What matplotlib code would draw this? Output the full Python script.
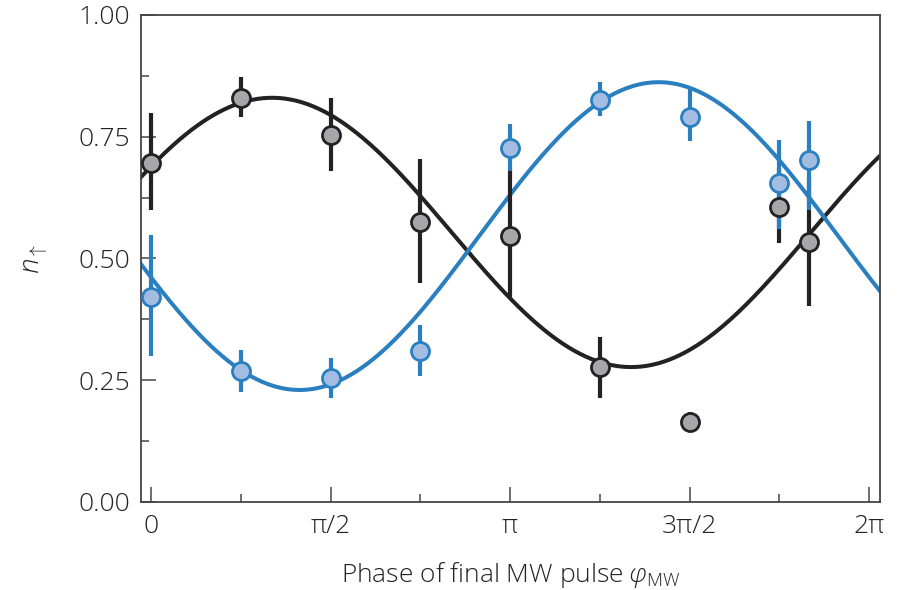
import numpy as np
import matplotlib
matplotlib.use("Agg")
import matplotlib.pyplot as plt
from matplotlib.ticker import MultipleLocator

plt.rcParams['font.family'] = ['Open Sans', 'DejaVu Sans']
plt.rcParams['font.weight'] = 'light'
plt.rcParams['axes.labelweight'] = 'light'
plt.rcParams['mathtext.fontset'] = 'custom'
plt.rcParams['mathtext.rm'] = 'Open Sans:light'
plt.rcParams['mathtext.it'] = 'Open Sans:italic:light'

# phases in units of pi
phase = np.array([0, 0.25, 0.5, 0.75, 1.0, 1.25, 1.5, 1.75, 11 / 6])

# black (grey) data
n_black = [0.696, 0.830, 0.754, 0.575, 0.546, 0.277, 0.164, 0.606, 0.534]
black_lo = [0.600, 0.791, 0.680, 0.450, 0.421, 0.213, 0.145, 0.532, 0.402]
black_hi = [0.799, 0.873, 0.830, 0.704, 0.682, 0.339, 0.185, 0.686, 0.667]

# blue data
n_blue = [0.421, 0.269, 0.255, 0.310, 0.727, 0.825, 0.791, 0.655, 0.702]
blue_lo = [0.300, 0.226, 0.214, 0.259, 0.680, 0.793, 0.741, 0.560, 0.600]
blue_hi = [0.548, 0.312, 0.296, 0.363, 0.776, 0.862, 0.848, 0.743, 0.782]

# sinusoidal fits: offset, amplitude, phase of maximum (rad)
fit_black = (0.5535, 0.2765, 1.06)
fit_blue = (0.546, -0.316, 1.30)

xticks = [0, 0.5, 1.0, 1.5, 2.0]
xticklabels = ['0', 'π/2', 'π', '3π/2', '2π']

c_black = '#222222'
c_blue = '#2a7fc0'
fill_black = '#a7a7ab'
fill_blue = '#a3bde2'
c_text = '#222222'

fig = plt.figure(figsize=(9.03, 5.90), dpi=100)
ax = fig.add_axes([0.1561, 0.1492, 0.8184, 0.8254])

xmin, xmax = -0.0875, 6.378
xs = np.linspace(xmin, xmax, 400)
for (off, amp, ph), col in [(fit_black, c_black), (fit_blue, c_blue)]:
    ax.plot(xs, off + amp * np.cos(xs - ph), color=col, lw=2.9, zorder=2)

x = phase * np.pi
for n, lo, hi, col, fc in [(n_black, black_lo, black_hi, c_black, fill_black),
                           (n_blue, blue_lo, blue_hi, c_blue, fill_blue)]:
    n = np.array(n)
    yerr = [n - np.array(lo), np.array(hi) - n]
    ax.errorbar(x, n, yerr=yerr, fmt='o', color=col, ecolor=col, elinewidth=3,
                capsize=0, ms=13, mfc=fc, mec=col, mew=2, zorder=3)

ax.set_xlim(xmin, xmax)
ax.set_ylim(0, 1)
ax.set_xticks(np.array(xticks) * np.pi)
ax.set_xticklabels(xticklabels)
ax.xaxis.set_minor_locator(MultipleLocator(np.pi / 4))
ax.yaxis.set_major_locator(MultipleLocator(0.25))
ax.yaxis.set_minor_locator(MultipleLocator(0.125))
ax.yaxis.set_major_formatter(matplotlib.ticker.FormatStrFormatter('%.2f'))

ax.tick_params(which='both', direction='in', colors='#555555', labelcolor=c_text,
               labelsize=19, width=1.2)
ax.tick_params(which='major', length=11)
ax.tick_params(which='minor', length=6)
ax.tick_params(axis='x', pad=9)
ax.tick_params(axis='y', pad=8)
for s in ax.spines.values():
    s.set_color('#444444')
    s.set_linewidth(1.3)

ax.set_xlabel('Phase of final MW pulse $\\varphi_{\\mathrm{MW}}$', fontsize=19,
              color=c_text, labelpad=15)
ax.set_ylabel('$n_{\\uparrow}$', fontsize=20, color=c_text, labelpad=20)

fig.savefig('out.png', dpi=100)
